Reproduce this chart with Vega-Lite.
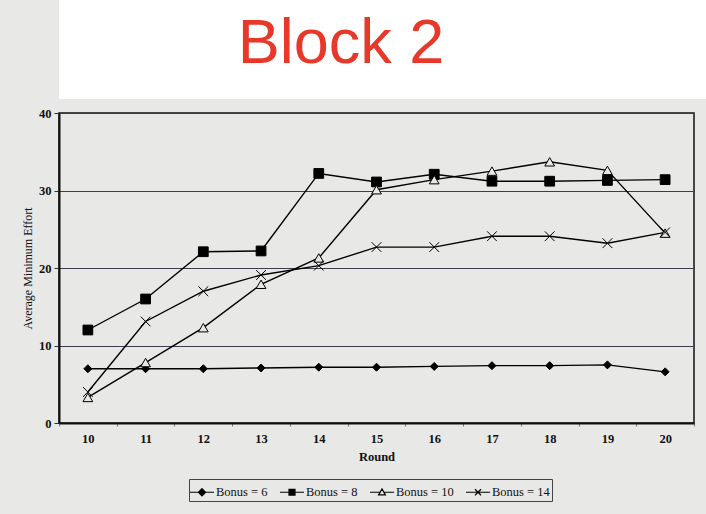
{
  "$schema": "https://vega.github.io/schema/vega-lite/v6.json",
  "background": "#e8e8e6",
  "padding": {"left": 20, "top": 0, "right": 0, "bottom": 14},
  "spacing": 7,
  "resolve": {"legend": {"shape": "independent"}, "scale": {"shape": "independent"}},
  "vconcat": [
    {
      "width": 648,
      "height": 99,
      "view": {"fill": "white", "stroke": null},
      "data": {"values": [{"label": "Block 2"}]},
      "mark": {
        "type": "text",
        "font": "Liberation Sans",
        "fontSize": 63,
        "color": "#e8382a",
        "align": "center",
        "baseline": "alphabetic",
        "dx": -42,
        "dy": 13
      },
      "encoding": {"text": {"field": "label", "type": "nominal"}}
    },
    {
      "width": 635,
      "height": 310,
      "data": {
        "values": [
          {"round": 10, "series": "Bonus = 6", "effort": 7.0},
          {"round": 11, "series": "Bonus = 6", "effort": 7.0},
          {"round": 12, "series": "Bonus = 6", "effort": 7.0},
          {"round": 13, "series": "Bonus = 6", "effort": 7.1},
          {"round": 14, "series": "Bonus = 6", "effort": 7.2},
          {"round": 15, "series": "Bonus = 6", "effort": 7.2},
          {"round": 16, "series": "Bonus = 6", "effort": 7.3},
          {"round": 17, "series": "Bonus = 6", "effort": 7.4},
          {"round": 18, "series": "Bonus = 6", "effort": 7.4},
          {"round": 19, "series": "Bonus = 6", "effort": 7.5},
          {"round": 20, "series": "Bonus = 6", "effort": 6.6},
          {"round": 10, "series": "Bonus = 8", "effort": 12.0},
          {"round": 11, "series": "Bonus = 8", "effort": 16.0},
          {"round": 12, "series": "Bonus = 8", "effort": 22.1},
          {"round": 13, "series": "Bonus = 8", "effort": 22.2},
          {"round": 14, "series": "Bonus = 8", "effort": 32.2},
          {"round": 15, "series": "Bonus = 8", "effort": 31.1},
          {"round": 16, "series": "Bonus = 8", "effort": 32.1},
          {"round": 17, "series": "Bonus = 8", "effort": 31.2},
          {"round": 18, "series": "Bonus = 8", "effort": 31.2},
          {"round": 19, "series": "Bonus = 8", "effort": 31.3},
          {"round": 20, "series": "Bonus = 8", "effort": 31.4},
          {"round": 10, "series": "Bonus = 10", "effort": 3.3},
          {"round": 11, "series": "Bonus = 10", "effort": 7.8},
          {"round": 12, "series": "Bonus = 10", "effort": 12.3},
          {"round": 13, "series": "Bonus = 10", "effort": 17.9},
          {"round": 14, "series": "Bonus = 10", "effort": 21.3},
          {"round": 15, "series": "Bonus = 10", "effort": 30.1},
          {"round": 16, "series": "Bonus = 10", "effort": 31.4},
          {"round": 17, "series": "Bonus = 10", "effort": 32.5},
          {"round": 18, "series": "Bonus = 10", "effort": 33.7},
          {"round": 19, "series": "Bonus = 10", "effort": 32.6},
          {"round": 20, "series": "Bonus = 10", "effort": 24.5},
          {"round": 10, "series": "Bonus = 14", "effort": 4.0},
          {"round": 11, "series": "Bonus = 14", "effort": 13.1},
          {"round": 12, "series": "Bonus = 14", "effort": 17.0},
          {"round": 13, "series": "Bonus = 14", "effort": 19.1},
          {"round": 14, "series": "Bonus = 14", "effort": 20.3},
          {"round": 15, "series": "Bonus = 14", "effort": 22.7},
          {"round": 16, "series": "Bonus = 14", "effort": 22.7},
          {"round": 17, "series": "Bonus = 14", "effort": 24.1},
          {"round": 18, "series": "Bonus = 14", "effort": 24.1},
          {"round": 19, "series": "Bonus = 14", "effort": 23.2},
          {"round": 20, "series": "Bonus = 14", "effort": 24.6}
        ]
      },
      "encoding": {
        "x": {
          "field": "round",
          "type": "ordinal",
          "scale": {"type": "band", "paddingInner": 0, "paddingOuter": 0},
          "axis": {
            "title": "Round",
            "titleFont": "Liberation Serif",
            "titleFontSize": 12.5,
            "titleFontWeight": "bold",
            "titleColor": "#111",
            "titlePadding": 6,
            "labelFont": "Liberation Serif",
            "labelFontSize": 12.5,
            "labelFontWeight": "bold",
            "labelColor": "#111",
            "labelAngle": 0,
            "labelPadding": 6,
            "tickBand": "extent",
            "tickSize": 3,
            "tickColor": "#777",
            "domainColor": "#111",
            "domainWidth": 2,
            "grid": false
          }
        },
        "y": {
          "field": "effort",
          "type": "quantitative",
          "scale": {"domain": [0, 40], "nice": false},
          "axis": {
            "title": "Average Minimum Effort",
            "titleFont": "Liberation Serif",
            "titleFontSize": 12,
            "titleFontWeight": "normal",
            "titleColor": "#111",
            "titlePadding": 4,
            "labelFont": "Liberation Serif",
            "labelFontSize": 12.5,
            "labelFontWeight": "bold",
            "labelColor": "#111",
            "labelPadding": 3,
            "values": [0, 10, 20, 30, 40],
            "tickSize": 5,
            "tickColor": "#333",
            "domainColor": "#111",
            "domainWidth": 2,
            "grid": true,
            "gridColor": "#3f3a4c",
            "gridWidth": 1
          }
        }
      },
      "layer": [
        {
          "mark": {"type": "line", "color": "black", "strokeWidth": 1.4},
          "encoding": {"detail": {"field": "series", "type": "nominal"}}
        },
        {
          "mark": {"type": "point", "filled": false, "color": "black", "strokeWidth": 1.2, "opacity": 0},
          "encoding": {
            "shape": {
              "field": "series",
              "type": "nominal",
              "scale": {
                "domain": ["Bonus = 6", "Bonus = 8", "Bonus = 10", "Bonus = 14"],
                "range": [
                  "M-1.2,0H1.2M0,-0.36L0.36,0L0,0.36L-0.36,0ZM-0.26,-0.1H0.26M-0.16,-0.2H0.16M-0.26,0.1H0.26M-0.16,0.2H0.16",
                  "M-1.2,0H1.2M-0.3,-0.3H0.3V0.3H-0.3ZM-0.3,-0.2H0.3M-0.3,-0.1H0.3M-0.3,0.1H0.3M-0.3,0.2H0.3",
                  "M-1.2,0H-0.25M0.25,0H1.2M0,-0.34L0.34,0.26L-0.34,0.26Z",
                  "M-1.2,0H1.2M-0.3,-0.3L0.3,0.3M-0.3,0.3L0.3,-0.3"
                ]
              },
              "legend": {
                "title": null,
                "orient": "none",
                "direction": "horizontal",
                "legendX": 130,
                "legendY": 366,
                "columns": 4,
                "columnPadding": 9,
                "padding": 2,
                "strokeColor": "#444",
                "fillColor": "#e8e8e6",
                "symbolSize": 400,
                "symbolOpacity": 1,
                "symbolStrokeColor": "black",
                "symbolFillColor": "transparent",
                "symbolStrokeWidth": 1.2,
                "labelOffset": 3,
                "labelFont": "Liberation Serif",
                "labelFontSize": 12.5,
                "labelColor": "#111"
              }
            }
          }
        },
        {
          "mark": {"type": "point", "filled": true, "stroke": "black", "strokeWidth": 1, "opacity": 1},
          "encoding": {
            "shape": {
              "condition": [
                {"test": "datum.series === 'Bonus = 6'", "value": "diamond"},
                {"test": "datum.series === 'Bonus = 8'", "value": "square"},
                {"test": "datum.series === 'Bonus = 10'", "value": "triangle-up"}
              ],
              "value": "M-1,-1L1,1M-1,1L1,-1"
            },
            "fill": {
              "condition": [
                {"test": "datum.series === 'Bonus = 10'", "value": "#e8e8e6"},
                {"test": "datum.series === 'Bonus = 14'", "value": "transparent"}
              ],
              "value": "black"
            },
            "size": {
              "condition": {"test": "datum.series === 'Bonus = 6'", "value": 64},
              "value": 95
            }
          }
        }
      ]
    }
  ],
  "config": {
    "view": {"stroke": "#111", "strokeWidth": 1.5, "fill": "#e8e8e6"},
    "font": "Liberation Serif"
  }
}
